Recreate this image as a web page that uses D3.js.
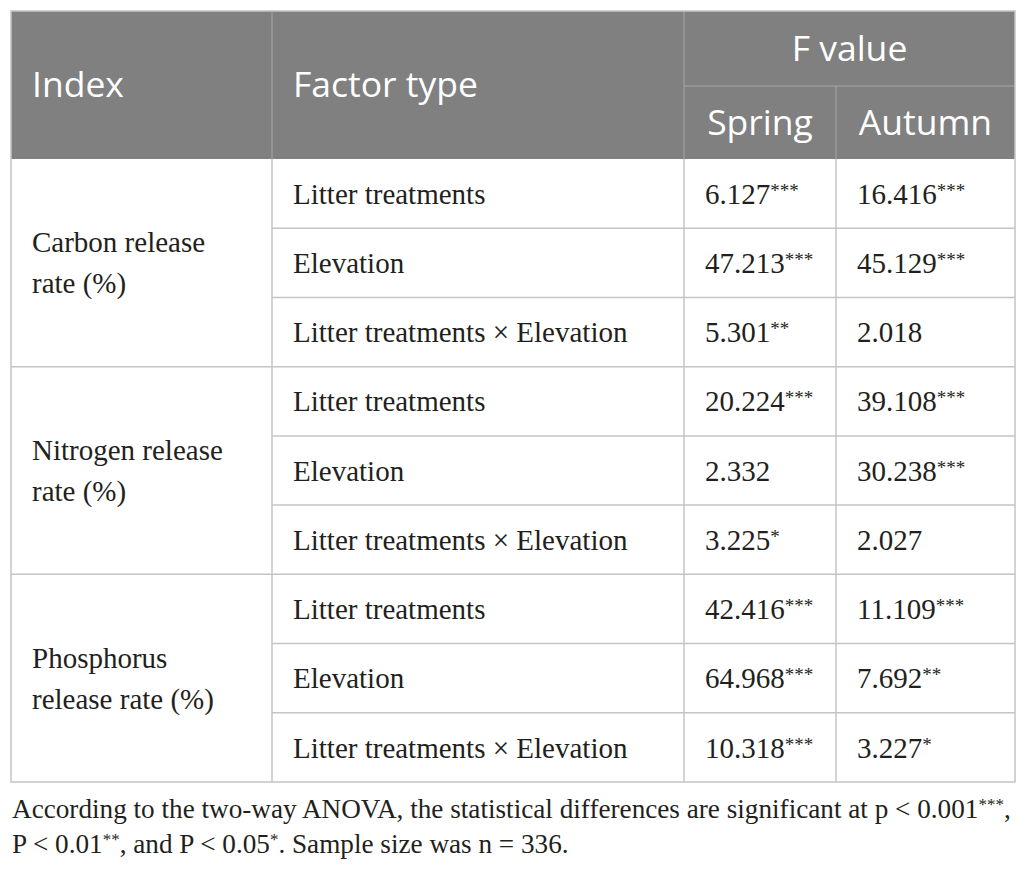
<html>
<head>
  <meta charset="utf-8">
  <script src="https://d3js.org/d3.v7.min.js"></script>
  <style>
    body { margin: 0; background: white; }
    .head { font-family: "Open Sans", Lato, sans-serif; fill: white; }
    .cell { font-family: "Liberation Serif", "DejaVu Serif", serif; fill: #231f20; }
  </style>
</head>
<body>
  <svg id="chart" width="1026" height="870"></svg>

  <script>
    // table content
    let indexLines = [["Carbon release", "rate (%)"], ["Nitrogen release", "rate (%)"], ["Phosphorus", "release rate (%)"]];
    let factors = ["Litter treatments", "Elevation", "Litter treatments \u00d7 Elevation"];
    let springF = ["6.127", "47.213", "5.301", "20.224", "2.332", "3.225", "42.416", "64.968", "10.318"];
    let springSig = ["***", "***", "**", "***", "", "*", "***", "***", "***"];
    let autumnF = ["16.416", "45.129", "2.018", "39.108", "30.238", "2.027", "11.109", "7.692", "3.227"];
    let autumnSig = ["***", "***", "", "***", "***", "", "***", "**", "*"];
    let footnote = ["According to the two-way ANOVA, the statistical differences are significant at p < 0.001***,",
      "P < 0.01**, and P < 0.05*. Sample size was n = 336."];

    let svg = d3.select("#chart");

    let xLeft = 11, xRight = 1015, yTop = 11, headBot = 159, bodyBot = 782;
    let colX = [xLeft, 272, 684, 836, xRight];
    let pad = 21;
    let grey = "#808080", line = "#c4c4c4";

    // one band per body row
    let nRows = springF.length;
    let y = d3.scaleBand().domain(d3.range(nRows)).range([headBot, bodyBot]);

    // header
    svg.append("rect").attr("x", xLeft).attr("y", yTop).attr("width", xRight - xLeft).attr("height", headBot - yTop)
      .style("fill", grey);

    let headMid = (yTop + headBot) / 2;
    let subLine = 86;
    let hs = "35.5px";
    svg.append("text").attr("class", "head").attr("x", colX[0] + pad).attr("y", headMid).attr("dy", "0.35em")
      .style("font-size", hs).text("Index");
    svg.append("text").attr("class", "head").attr("x", colX[1] + pad).attr("y", headMid).attr("dy", "0.35em")
      .style("font-size", hs).text("Factor type");
    svg.append("text").attr("class", "head").attr("x", (colX[2] + colX[4]) / 2).attr("y", (yTop + subLine) / 2).attr("dy", "0.35em")
      .attr("text-anchor", "middle").style("font-size", hs).text("F value");
    svg.append("text").attr("class", "head").attr("x", (colX[2] + colX[3]) / 2).attr("y", (subLine + headBot) / 2).attr("dy", "0.35em")
      .attr("text-anchor", "middle").style("font-size", hs).text("Spring");
    svg.append("text").attr("class", "head").attr("x", (colX[3] + colX[4]) / 2).attr("y", (subLine + headBot) / 2).attr("dy", "0.35em")
      .attr("text-anchor", "middle").style("font-size", hs).text("Autumn");

    // header inner lines
    let hl = "#a6a6a6";
    svg.append("line").attr("x1", colX[1]).attr("x2", colX[1]).attr("y1", yTop).attr("y2", headBot).style("stroke", hl);
    svg.append("line").attr("x1", colX[2]).attr("x2", colX[2]).attr("y1", yTop).attr("y2", headBot).style("stroke", hl);
    svg.append("line").attr("x1", colX[3]).attr("x2", colX[3]).attr("y1", subLine).attr("y2", headBot).style("stroke", hl);
    svg.append("line").attr("x1", colX[2]).attr("x2", xRight).attr("y1", subLine).attr("y2", subLine).style("stroke", hl);

    // body grid
    d3.range(1, nRows).forEach(i => {
      let x0 = (i % 3 == 0) ? xLeft : colX[1];
      svg.append("line").attr("x1", x0).attr("x2", xRight).attr("y1", y(i)).attr("y2", y(i))
        .style("stroke", line).style("stroke-width", 1.5);
    });
    [colX[1], colX[2], colX[3]].forEach(x => {
      svg.append("line").attr("x1", x).attr("x2", x).attr("y1", headBot).attr("y2", bodyBot)
        .style("stroke", line).style("stroke-width", 1.5);
    });
    svg.append("rect").attr("x", xLeft).attr("y", yTop).attr("width", xRight - xLeft).attr("height", bodyBot - yTop)
      .style("fill", "none").style("stroke", line).style("stroke-width", 1.5);

    let fs = 29;

    // index labels
    indexLines.forEach((lines, g) => {
      let mid = (y(g * 3) + y(g * 3 + 2) + y.bandwidth()) / 2;
      lines.forEach((t, k) => {
        svg.append("text").attr("class", "cell").attr("x", colX[0] + pad)
          .attr("y", mid + (k - (lines.length - 1) / 2) * 41).attr("dy", "0.35em")
          .style("font-size", fs + "px").text(t);
      });
    });

    // factor + values
    d3.range(nRows).forEach(i => {
      let cy = y(i) + y.bandwidth() / 2;
      svg.append("text").attr("class", "cell").attr("x", colX[1] + pad).attr("y", cy).attr("dy", "0.35em")
        .style("font-size", fs + "px").text(factors[i % 3]);

      [[springF, springSig, colX[2]], [autumnF, autumnSig, colX[3]]].forEach(([vals, sig, x]) => {
        let t = svg.append("text").attr("class", "cell").attr("x", x + pad).attr("y", cy).attr("dy", "0.35em")
          .style("font-size", fs + "px");
        t.append("tspan").text(vals[i]);
        if (sig[i]) t.append("tspan").attr("dy", -7).style("font-size", "19px").text(sig[i]);
      });
    });

    // footnote, stars as superscript
    footnote.forEach((s, k) => {
      let t = svg.append("text").attr("class", "cell").attr("x", 12).attr("y", 818 + k * 34.5)
        .style("font-size", "27.2px");
      let raised = false;
      s.split(/(\*+)/).forEach(part => {
        if (!part) return;
        if (part[0] == "*") {
          t.append("tspan").attr("dy", -8).style("font-size", "17px").text(part);
          raised = true;
        } else {
          t.append("tspan").attr("dy", raised ? 8 : 0).text(part);
          raised = false;
        }
      });
    });
  </script>
</body>
</html>
